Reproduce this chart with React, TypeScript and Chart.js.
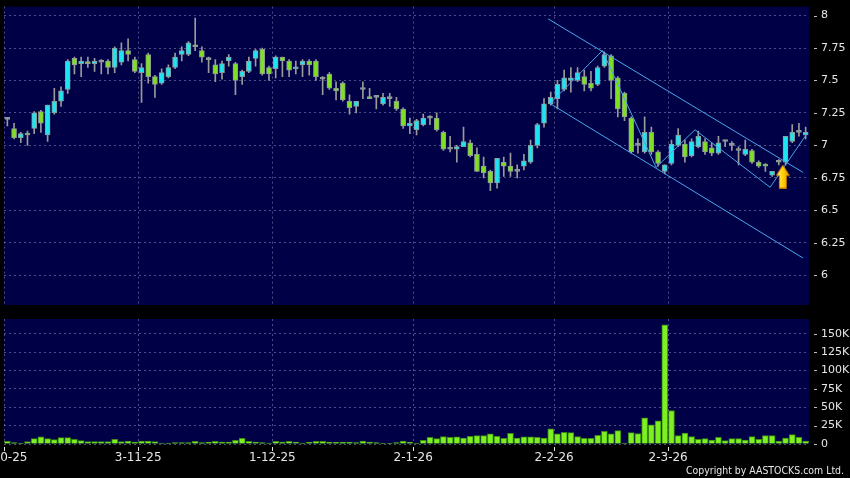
import React, { useEffect, useRef } from 'react';
import { Chart, registerables } from 'chart.js';

Chart.register(...registerables);

// ---------- data ----------
const opens = [
  7.20, 7.13, 7.06, 7.09, 7.13, 7.26, 7.08, 7.25, 7.34, 7.43,
  7.67, 7.63, 7.64, 7.63, 7.64, 7.65, 7.60, 7.64, 7.73, 7.66,
  7.56, 7.70, 7.53, 7.48, 7.53, 7.60, 7.70, 7.70, 7.77, 7.73,
  7.66, 7.62, 7.56, 7.65, 7.63, 7.53, 7.57, 7.67, 7.74, 7.60,
  7.59, 7.68, 7.65, 7.59, 7.62, 7.65, 7.65, 7.51, 7.55, 7.44,
  7.48, 7.34, 7.30, 7.43, 7.37, 7.37, 7.32, 7.36, 7.34, 7.28,
  7.15, 7.12, 7.16, 7.21, 7.21, 7.10, 6.97, 6.97, 6.99, 7.02,
  6.93, 6.84, 6.80, 6.71, 6.87, 6.84, 6.80, 6.84, 6.87, 7.00,
  7.17, 7.32, 7.36, 7.43, 7.50, 7.50, 7.53, 7.48, 7.47, 7.61,
  7.69, 7.52, 7.40, 7.21, 7.00, 6.95, 7.10, 6.95, 6.80, 6.86,
  7.00, 7.01, 6.92, 6.99, 7.03, 6.98, 6.94, 7.03, 7.00, 6.96,
  6.93, 6.96, 6.87, 6.85, 6.77, 6.87, 6.87, 7.03, 7.10, 7.08,
];
const highs = [
  7.21, 7.17, 7.10, 7.11, 7.26, 7.27, 7.31, 7.44, 7.45, 7.66,
  7.68, 7.68, 7.68, 7.67, 7.66, 7.66, 7.76, 7.79, 7.82, 7.68,
  7.63, 7.71, 7.54, 7.59, 7.62, 7.71, 7.76, 7.80, 7.98, 7.76,
  7.68, 7.66, 7.65, 7.70, 7.64, 7.58, 7.68, 7.74, 7.75, 7.61,
  7.69, 7.68, 7.66, 7.65, 7.66, 7.66, 7.66, 7.53, 7.56, 7.49,
  7.49, 7.39, 7.34, 7.49, 7.44, 7.38, 7.40, 7.40, 7.37, 7.29,
  7.21, 7.20, 7.24, 7.23, 7.25, 7.11, 7.07, 7.00, 7.14, 7.04,
  6.98, 6.91, 6.81, 6.90, 6.91, 6.94, 6.85, 6.93, 7.04, 7.17,
  7.36, 7.41, 7.50, 7.58, 7.60, 7.60, 7.58, 7.57, 7.61, 7.72,
  7.70, 7.53, 7.41, 7.22, 7.05, 7.22, 7.14, 6.96, 6.85, 7.04,
  7.13, 7.04, 7.05, 7.11, 7.05, 7.02, 7.07, 7.04, 7.03, 6.99,
  7.04, 6.97, 6.88, 6.86, 6.80, 6.89, 7.07, 7.16, 7.17, 7.14,
];
const lows = [
  7.15, 7.05, 7.02, 7.00, 7.09, 7.10, 7.03, 7.24, 7.30, 7.40,
  7.55, 7.53, 7.60, 7.57, 7.55, 7.55, 7.56, 7.62, 7.65, 7.56,
  7.33, 7.48, 7.37, 7.47, 7.52, 7.59, 7.65, 7.69, 7.73, 7.64,
  7.56, 7.49, 7.51, 7.61, 7.39, 7.47, 7.56, 7.61, 7.54, 7.50,
  7.52, 7.53, 7.53, 7.55, 7.53, 7.54, 7.50, 7.39, 7.43, 7.35,
  7.34, 7.24, 7.25, 7.36, 7.36, 7.28, 7.31, 7.30, 7.27, 7.13,
  7.09, 7.08, 7.15, 7.16, 7.11, 6.96, 6.95, 6.87, 6.99, 6.91,
  6.80, 6.75, 6.65, 6.67, 6.76, 6.76, 6.75, 6.81, 6.86, 6.98,
  7.14, 7.31, 7.28, 7.42, 7.41, 7.49, 7.42, 7.42, 7.46, 7.60,
  7.36, 7.22, 7.19, 6.94, 6.94, 6.94, 6.93, 6.84, 6.78, 6.85,
  6.99, 6.87, 6.91, 6.98, 6.93, 6.92, 6.93, 6.99, 6.96, 6.85,
  6.92, 6.86, 6.83, 6.80, 6.76, 6.85, 6.85, 7.02, 7.07, 7.05,
];
const closes = [
  7.20, 7.06, 7.09, 7.08, 7.25, 7.17, 7.31, 7.34, 7.42, 7.65,
  7.62, 7.65, 7.63, 7.65, 7.64, 7.60, 7.75, 7.73, 7.70, 7.57,
  7.60, 7.53, 7.47, 7.56, 7.60, 7.68, 7.73, 7.79, 7.76, 7.68,
  7.66, 7.55, 7.63, 7.68, 7.50, 7.57, 7.65, 7.73, 7.55, 7.55,
  7.68, 7.65, 7.58, 7.60, 7.65, 7.62, 7.53, 7.51, 7.44, 7.42,
  7.35, 7.29, 7.34, 7.43, 7.36, 7.37, 7.37, 7.36, 7.28, 7.15,
  7.17, 7.19, 7.21, 7.21, 7.12, 6.97, 6.97, 6.99, 7.03, 6.92,
  6.80, 6.79, 6.71, 6.90, 6.84, 6.80, 6.80, 6.88, 7.00, 7.16,
  7.32, 7.37, 7.47, 7.52, 7.52, 7.56, 7.47, 7.44, 7.60, 7.70,
  7.50, 7.28, 7.22, 6.95, 7.00, 7.10, 6.95, 6.86, 6.85, 7.01,
  7.08, 6.91, 7.03, 7.07, 6.95, 6.94, 7.02, 7.03, 7.00, 6.96,
  6.97, 6.87, 6.84, 6.84, 6.80, 6.87, 7.07, 7.10, 7.10, 7.10,
];
const volumes = [
  3600, 1800, 900, 3200, 7300, 9600, 7300, 5900, 8700, 8700,
  6400, 4600, 3200, 3200, 3200, 3200, 6400, 3200, 4100, 2700,
  4100, 4100, 3200, 1400, 1400, 1800, 1800, 1800, 3600, 1800,
  2300, 3600, 2700, 2700, 5000, 7800, 3600, 2700, 1800, 1400,
  3600, 2700, 3600, 2700, 1400, 2300, 3600, 3600, 2300, 2300,
  2300, 2300, 1800, 4100, 2700, 1800, 500, 500, 1800, 4100,
  2300, 1400, 5000, 9100, 7300, 10000, 9100, 9600, 8200, 10500,
  11400, 11400, 13700, 10500, 7800, 14600, 8200, 9600, 9600, 9100,
  8200, 20500, 13700, 16000, 15500, 10000, 7800, 7800, 11900, 17300,
  13700, 18200, 1400, 15500, 14100, 35600, 26000, 31500, 162000, 45600,
  11400, 15000, 10000, 6400, 7300, 5500, 9100, 4600, 7300, 7300,
  5500, 10000, 6400, 11400, 11400, 4100, 8200, 12800, 9100, 4100,
];
const monthStartIndex = [0, 20, 40, 61, 82, 99];
const monthLabels = ['2-10-25', '3-11-25', '1-12-25', '2-1-26', '2-2-26', '2-3-26'];
const priceTicks = [6, 6.25, 6.5, 6.75, 7, 7.25, 7.5, 7.75, 8];
const volumeTicks = [0, 25000, 50000, 75000, 100000, 125000, 150000];
const channelUpperX = [80.6, 118.6];
const channelUpperY = [7.975, 6.792];
const channelLowerX = [80.9, 118.6];
const channelLowerY = [7.322, 6.132];
const zigzagX = [80.9, 88.7, 96.7, 102.5, 113.7, 119.2];
const zigzagY = [7.322, 7.73, 6.83, 7.12, 6.677, 7.09];
const signalX = [115.6];
const signalY = [6.76];
const copyright = 'Copyright by AASTOCKS.com Ltd.';

// ---------- styles ----------
const NAVY = '#000046';
const GRID = 'rgba(140,140,190,0.55)';
const TEXT = '#e6e6e6';
const UP = '#1ee4f2';
const DOWN = '#7fe01f';
const FLAT = '#9a9a9a';
const EDGE = '#8c9a9a';
const WICK = '#9a9a9a';
const TREND = '#4aa6ea';
const VOL = '#7cf020';
const VOL_EDGE = '#3c8a12';
const FONT = 'DejaVu Sans';

const plotBg = {
  id: 'plotBg',
  beforeDraw(chart: any) {
    const { ctx, chartArea: a } = chart;
    ctx.save();
    ctx.fillStyle = NAVY;
    ctx.fillRect(a.left, a.top, a.right - a.left, a.bottom - a.top);
    ctx.restore();
  },
};

const yTickMarks = {
  id: 'yTickMarks',
  afterDraw(chart: any) {
    const s = chart.scales.y;
    const ctx = chart.ctx;
    const r = chart.chartArea.right;
    ctx.save();
    ctx.fillStyle = '#bbbbbb';
    s.ticks.forEach((t: any) => {
      const y = Math.round(s.getPixelForValue(t.value));
      ctx.fillRect(r + 5, y, 3, 1);
    });
    ctx.restore();
  },
};

const xLabels = {
  id: 'xLabels',
  afterDraw(chart: any) {
    const s = chart.scales.x;
    const ctx = chart.ctx;
    const bottom = chart.chartArea.bottom;
    ctx.save();
    ctx.fillStyle = TEXT;
    ctx.font = `12px "${FONT}"`;
    ctx.textAlign = 'center';
    ctx.textBaseline = 'middle';
    monthStartIndex.forEach((m, k) => {
      const x = s.getPixelForValue(m - 0.5);
      ctx.fillRect(Math.round(x), bottom + 3, 1, 4);
      ctx.fillText(monthLabels[k], x, bottom + 14);
    });
    ctx.font = `11px "${FONT}"`;
    ctx.textAlign = 'right';
    ctx.textBaseline = 'alphabetic';
    ctx.fillText(copyright, 844, chart.height - 4, 158);
    ctx.restore();
  },
};

function makeArrow() {
  const c = document.createElement('canvas');
  c.width = 14;
  c.height = 24;
  const g = c.getContext('2d')!;
  g.beginPath();
  g.moveTo(7, 0.5);
  g.lineTo(13.5, 11);
  g.lineTo(10.5, 11);
  g.lineTo(10.5, 23.5);
  g.lineTo(3.5, 23.5);
  g.lineTo(3.5, 11);
  g.lineTo(0.5, 11);
  g.closePath();
  const grad = g.createLinearGradient(0, 0, 14, 0);
  grad.addColorStop(0, '#fff0a0');
  grad.addColorStop(0.5, '#ffd000');
  grad.addColorStop(1, '#e89a00');
  g.fillStyle = grad;
  g.fill();
  g.strokeStyle = '#c87800';
  g.lineWidth = 1;
  g.stroke();
  return c;
}

const xScale = () => ({
  type: 'linear',
  min: -0.5,
  max: opens.length - 0.5,
  offset: false,
  grid: { offset: false, color: GRID, drawTicks: false, lineWidth: 1 },
  border: { display: false, dash: [2, 3] },
  ticks: { display: false, padding: 0 },
  afterBuildTicks: (s: any) => {
    s.ticks = monthStartIndex.map((m) => ({ value: m - 0.5 }));
  },
  afterFit: (s: any) => {
    s.height = 0;
  },
});

const yScale = (min: number, max: number, ticks: number[], fmt: (v: number) => string) => ({
  type: 'linear',
  position: 'right',
  min,
  max,
  afterBuildTicks: (s: any) => {
    s.ticks = ticks.map((v) => ({ value: v }));
  },
  afterFit: (s: any) => {
    s.width = 41;
  },
  ticks: {
    color: TEXT,
    font: { family: FONT, size: 11 },
    padding: 0,
    callback: (v: any) => fmt(v),
  },
  grid: { color: GRID, drawTicks: true, tickLength: 12, tickColor: 'rgba(0,0,0,0)' },
  border: { display: false, dash: [2, 3] },
});

const lineBase = {
  type: 'line',
  borderColor: TREND,
  borderWidth: 1,
  pointRadius: 0,
  pointHoverRadius: 0,
  pointBorderWidth: 0,
  order: 0,
};

export default function App() {
  const priceRef = useRef<HTMLCanvasElement>(null);
  const volRef = useRef<HTMLCanvasElement>(null);

  useEffect(() => {
    const arrow = makeArrow();
    const idx = opens.map((_, i) => i);

    const price = new Chart(priceRef.current!, {
      type: 'bar',
      data: {
        datasets: [
          {
            type: 'line',
            label: 'Signal',
            data: signalX.map((x, k) => ({ x, y: signalY[k] })),
            showLine: false,
            pointStyle: arrow as any,
            pointRadius: 0.5,
            pointHoverRadius: 0,
            pointBorderWidth: 0,
            borderWidth: 0,
            order: -1,
          } as any,
          {
            ...lineBase,
            label: 'Channel upper',
            data: channelUpperX.map((x, k) => ({ x, y: channelUpperY[k] })),
          } as any,
          {
            ...lineBase,
            label: 'Channel lower',
            data: channelLowerX.map((x, k) => ({ x, y: channelLowerY[k] })),
          } as any,
          {
            ...lineBase,
            label: 'Zigzag',
            data: zigzagX.map((x, k) => ({ x, y: zigzagY[k] })),
          } as any,
          {
            type: 'bar',
            label: 'Body',
            data: idx.map((i) => ({ x: i, y: [opens[i], closes[i]] })) as any,
            backgroundColor: (c: any) => {
              const i = c.dataIndex;
              if (i === undefined) return UP;
              return closes[i] > opens[i] ? UP : closes[i] < opens[i] ? DOWN : FLAT;
            },
            borderColor: EDGE,
            borderWidth: 1,
            borderSkipped: false,
            barThickness: 5,
            minBarLength: 2,
            grouped: false,
            order: 2,
          } as any,
          {
            type: 'bar',
            label: 'Wick',
            data: idx.map((i) => ({ x: i, y: [lows[i], highs[i]] })) as any,
            backgroundColor: WICK,
            borderWidth: 0,
            barThickness: 1,
            grouped: false,
            order: 3,
          } as any,
        ],
      },
      options: {
        animation: false,
        responsive: false,
        maintainAspectRatio: false,
        events: [],
        layout: { padding: { left: 4, top: 6, right: 0, bottom: 7 } },
        plugins: { legend: { display: false }, tooltip: { enabled: false } },
        scales: {
          x: xScale() as any,
          y: yScale(5.77, 8.069, priceTicks, (v) => String(v)) as any,
        },
      },
      plugins: [plotBg, yTickMarks],
    });

    const vol = new Chart(volRef.current!, {
      type: 'bar',
      data: {
        datasets: [
          {
            label: 'Volume',
            data: idx.map((i) => ({ x: i, y: volumes[i] })) as any,
            backgroundColor: VOL,
            borderColor: VOL_EDGE,
            borderWidth: 1,
            barThickness: 6,
            grouped: false,
          } as any,
        ],
      },
      options: {
        animation: false,
        responsive: false,
        maintainAspectRatio: false,
        events: [],
        layout: { padding: { left: 4, top: 9, right: 0, bottom: 34 } },
        plugins: { legend: { display: false }, tooltip: { enabled: false } },
        scales: {
          x: xScale() as any,
          y: yScale(0, 170000, volumeTicks, (v) => (v === 0 ? '0' : `${v / 1000}K`)) as any,
        },
      },
      plugins: [plotBg, yTickMarks, xLabels],
    });

    return () => {
      price.destroy();
      vol.destroy();
    };
  }, []);

  return (
    <div
      style={{
        position: 'absolute',
        left: 0,
        top: 0,
        width: 850,
        height: 478,
        background: '#000',
        overflow: 'hidden',
      }}
    >
      <canvas
        ref={priceRef}
        width={850}
        height={312}
        style={{ position: 'absolute', left: 0, top: 0, width: 850, height: 312, display: 'block' }}
      />
      <canvas
        ref={volRef}
        width={850}
        height={168}
        style={{ position: 'absolute', left: 0, top: 310, width: 850, height: 168, display: 'block' }}
      />
    </div>
  );
}
